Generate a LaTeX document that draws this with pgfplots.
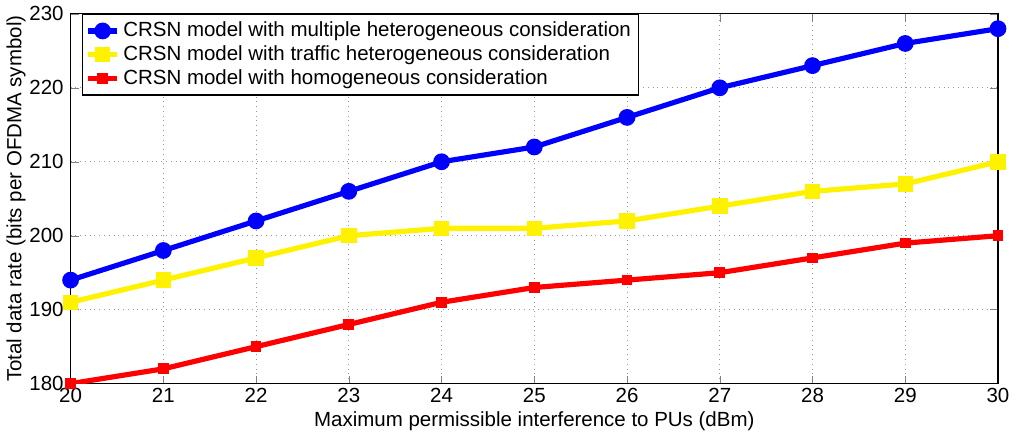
\documentclass[border=0pt]{standalone}
\usepackage{pgfplots}
\pgfplotsset{compat=1.18}
\usepackage{fontspec}
\setmainfont{Liberation Sans}
\begin{document}
\begin{tikzpicture}
\begin{axis}[
  width=466.5pt, height=186pt, scale only axis,
  xmin=20, xmax=30, ymin=180, ymax=230,
  xtick={20,21,...,30}, ytick={180,190,...,230},
  tick align=inside, tick pos=both,
  major tick length=4pt,
  grid=major, major grid style={dotted, gray!80, line width=0.5pt},
  axis line style={line width=0.6pt},
  font=\fontsize{10.3}{11.5}\selectfont,
  /pgf/number format/assume math mode=true,
  /pgf/number format/1000 sep={},
  xticklabel style={yshift=1pt},
  xlabel={Maximum permissible interference to PUs (dBm)},
  ylabel={Total data rate (bits per OFDMA symbol)},
  xlabel style={yshift=2.5pt},
  ylabel style={yshift=-5pt},
  legend style={at={(0.012,1)}, anchor=north west, draw=black, line width=0.6pt,
    font=\fontsize{10.3}{11.5}\selectfont, row sep=-1pt, inner sep=1.8pt},
  legend cell align=left,
  legend image code/.code={\draw[mark repeat=2,mark phase=2] plot coordinates {(0cm,0cm) (0.25cm,0cm) (0.5cm,0cm)};},
]
\addplot[blue, line width=2.6pt, mark=*, mark size=2.9pt] coordinates {
(20,194)(21,198)(22,202)(23,206)(24,210)(25,212)(26,216)(27,220)(28,223)(29,226)(30,228)};
\addplot[yellow, line width=2.6pt, mark=square*, mark size=2.6pt] coordinates {
(20,191)(21,194)(22,197)(23,200)(24,201)(25,201)(26,202)(27,204)(28,206)(29,207)(30,210)};
\addplot[red, line width=2.6pt, mark=square*, mark size=1.4pt] coordinates {
(20,180)(21,182)(22,185)(23,188)(24,191)(25,193)(26,194)(27,195)(28,197)(29,199)(30,200)};
\legend{CRSN model with multiple heterogeneous consideration, CRSN model with traffic heterogeneous consideration, CRSN model with homogeneous consideration}
\end{axis}
\end{tikzpicture}
\end{document}
